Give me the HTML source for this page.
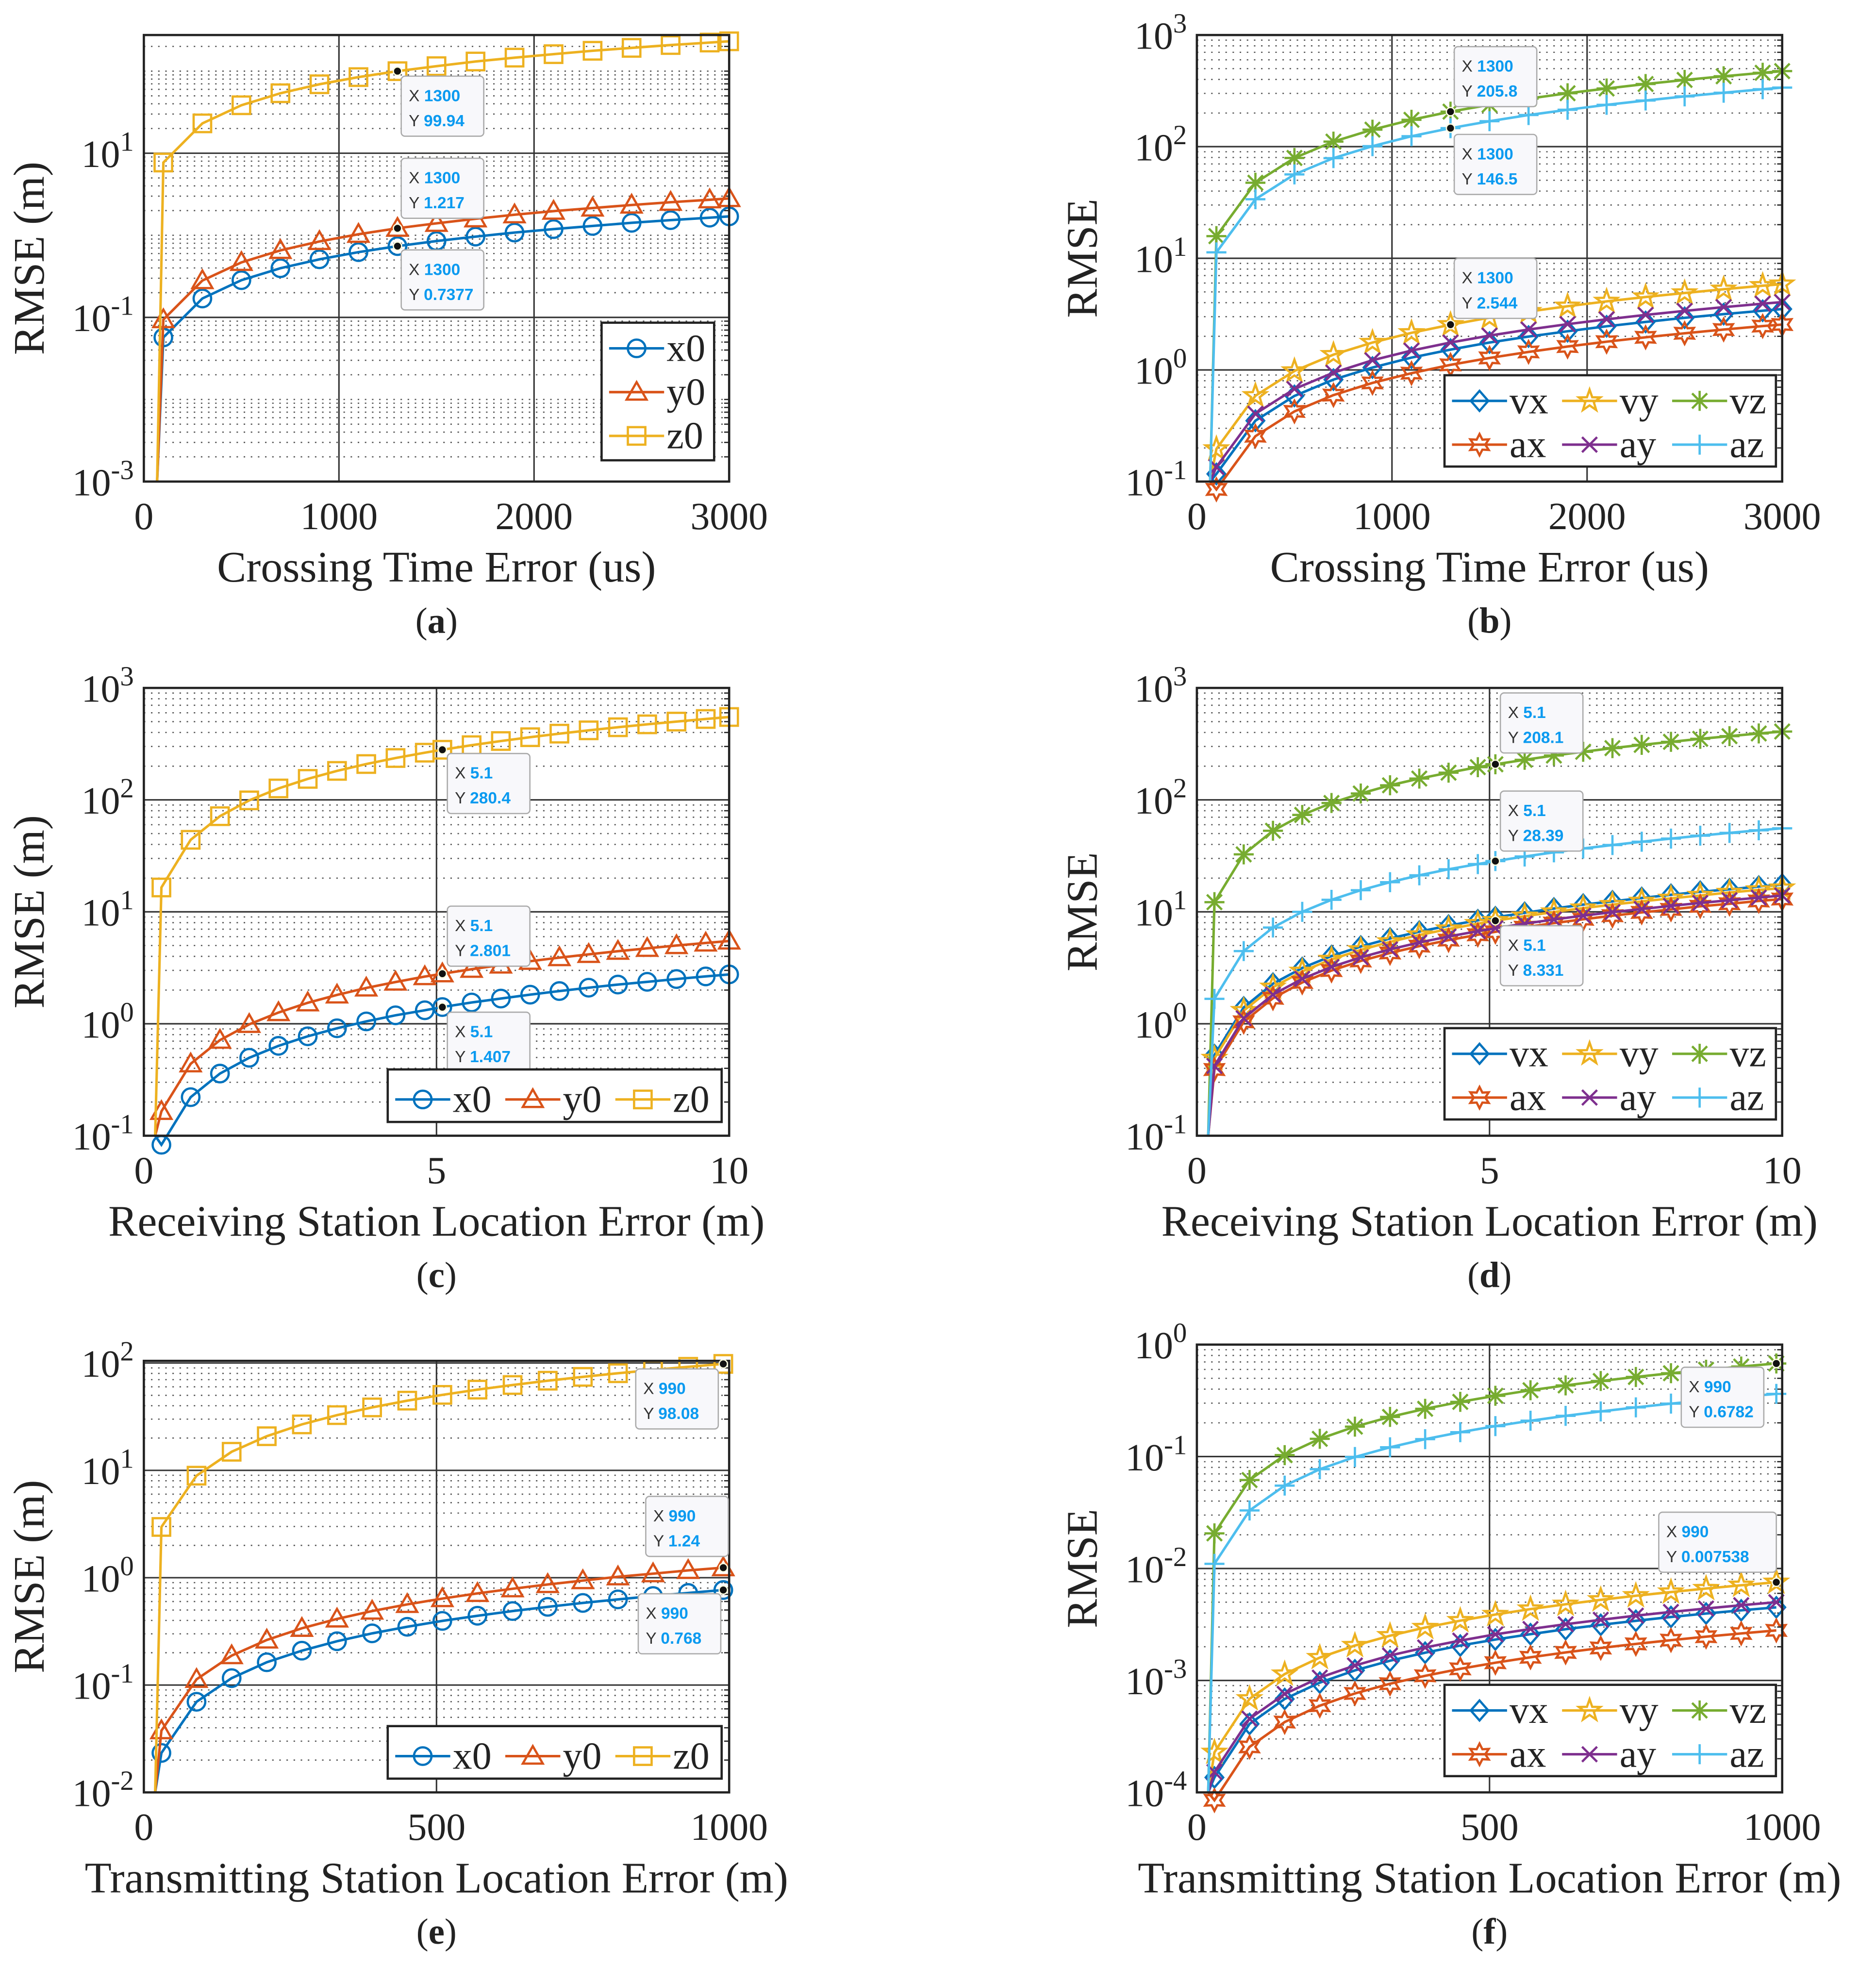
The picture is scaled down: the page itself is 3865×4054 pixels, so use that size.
<!DOCTYPE html>
<html><head><meta charset="utf-8"><style>
html,body{margin:0;padding:0;background:#fff;}
svg{display:block;}
text{font-family:"Liberation Serif",serif;fill:#222;}
.tip text{font-family:"Liberation Sans",sans-serif;}
</style></head><body>
<svg id="fig" width="3865" height="4054" viewBox="0 0 1500 1573.4" xmlns="http://www.w3.org/2000/svg"></svg>
<script>
// ---------- DATA ----------
const xA=[100,300,500,700,900,1100,1300,1500,1700,1900,2100,2300,2500,2700,2900,3000];
const aX0=[0.057,0.17,0.284,0.397,0.51,0.624,0.738,0.851,0.964,1.08,1.19,1.30,1.42,1.53,1.64,1.70];
const aY0=[0.094,0.281,0.468,0.655,0.842,1.03,1.22,1.40,1.59,1.78,1.97,2.15,2.34,2.53,2.71,2.81];
const aZ0=[7.7,23.1,38.4,53.8,69.2,84.6,99.9,115,131,146,161,177,192,208,223,231];
const bVX=[0.117,0.351,0.585,0.819,1.05,1.29,1.52,1.76,1.99,2.22,2.46,2.69,2.93,3.16,3.39,3.51];
const bVY=[0.196,0.587,0.979,1.37,1.76,2.15,2.54,2.94,3.33,3.72,4.11,4.50,4.89,5.28,5.68,5.87];
const bVZ=[15.8,47.5,79.2,111,142,174,206,237,269,301,332,364,396,427,459,475];
const bAX=[0.085,0.255,0.425,0.595,0.765,0.935,1.11,1.28,1.45,1.62,1.79,1.96,2.13,2.30,2.47,2.55];
const bAY=[0.135,0.405,0.675,0.945,1.22,1.49,1.76,2.03,2.30,2.57,2.84,3.11,3.38,3.65,3.92,4.05];
const bAZ=[11.3,33.8,56.4,78.9,101,124,146.5,169,192,214,237,259,282,304,327,338];
const xC=[0.3,0.8,1.3,1.8,2.3,2.8,3.3,3.8,4.3,4.8,5.1,5.6,6.1,6.6,7.1,7.6,8.1,8.6,9.1,9.6,10];
const cX0=[0.083,0.221,0.359,0.497,0.635,0.773,0.911,1.05,1.19,1.32,1.41,1.55,1.68,1.82,1.96,2.10,2.24,2.37,2.51,2.65,2.76];
const cY0=[0.165,0.439,0.714,0.988,1.26,1.54,1.81,2.09,2.36,2.64,2.80,3.07,3.35,3.62,3.90,4.17,4.45,4.72,5.00,5.27,5.49];
const cZ0=[16.5,44,71.5,99,126.5,154,181.5,209,236.5,264,280.4,308,335.5,363,390.5,418,445.5,473,500.5,528,550];
const dVX=[0.525,1.40,2.28,3.15,4.03,4.90,5.78,6.65,7.53,8.40,8.93,9.80,10.7,11.6,12.4,13.3,14.2,15.1,15.9,16.8,17.5];
const dVY=[0.49,1.31,2.12,2.94,3.76,4.57,5.39,6.21,7.02,7.84,8.33,9.14,9.96,10.8,11.6,12.4,13.2,14.0,14.9,15.7,16.3];
const dVZ=[12.2,32.6,53.0,73.4,93.8,114,135,155,175,196,208,228,249,269,290,310,330,351,371,392,408];
const dAX=[0.39,1.04,1.69,2.34,2.99,3.64,4.29,4.94,5.59,6.24,6.63,7.28,7.93,8.58,9.23,9.88,10.5,11.2,11.8,12.5,13.0];
const dAY=[0.42,1.12,1.82,2.52,3.22,3.92,4.62,5.32,6.02,6.72,7.14,7.84,8.54,9.24,9.94,10.6,11.3,12.0,12.7,13.4,14.0];
const dAZ=[1.67,4.46,7.24,10.0,12.8,15.6,18.4,21.2,24.0,26.7,28.4,31.2,34.0,36.8,39.5,42.3,45.1,47.9,50.7,53.5,55.7];
const xE=[30,90,150,210,270,330,390,450,510,570,630,690,750,810,870,930,990];
const eX0=[0.0233,0.0698,0.116,0.163,0.209,0.256,0.303,0.349,0.396,0.442,0.489,0.535,0.582,0.628,0.675,0.721,0.768];
const eY0=[0.0376,0.113,0.188,0.263,0.338,0.413,0.489,0.564,0.639,0.714,0.789,0.865,0.940,1.02,1.09,1.17,1.24];
const eZ0=[2.97,8.92,14.9,20.8,26.8,32.7,38.6,44.6,50.5,56.5,62.4,68.4,74.3,80.3,86.2,92.2,98.1];
const fVX=[0.136e-3,0.409e-3,0.683e-3,0.956e-3,1.23e-3,1.50e-3,1.77e-3,2.05e-3,2.32e-3,2.59e-3,2.87e-3,3.14e-3,3.41e-3,3.69e-3,3.96e-3,4.23e-3,4.50e-3];
const fVY=[0.228e-3,0.685e-3,1.14e-3,1.60e-3,2.05e-3,2.51e-3,2.97e-3,3.42e-3,3.88e-3,4.34e-3,4.79e-3,5.25e-3,5.71e-3,6.16e-3,6.62e-3,7.08e-3,7.54e-3];
const fVZ=[0.0206,0.0617,0.103,0.144,0.185,0.226,0.267,0.308,0.349,0.391,0.432,0.473,0.514,0.555,0.596,0.637,0.678];
const fAX=[0.085e-3,0.255e-3,0.425e-3,0.595e-3,0.765e-3,0.935e-3,1.10e-3,1.27e-3,1.44e-3,1.61e-3,1.78e-3,1.95e-3,2.12e-3,2.29e-3,2.46e-3,2.63e-3,2.80e-3];
const fAY=[0.152e-3,0.455e-3,0.758e-3,1.06e-3,1.36e-3,1.67e-3,1.97e-3,2.27e-3,2.58e-3,2.88e-3,3.18e-3,3.48e-3,3.79e-3,4.09e-3,4.39e-3,4.70e-3,5.00e-3];
const fAZ=[0.011,0.033,0.055,0.0771,0.0991,0.121,0.143,0.165,0.187,0.209,0.231,0.253,0.275,0.297,0.319,0.341,0.363];
const xTicksA=[0,1000,2000,3000], xTicksC=[0,5,10], xTicksE=[0,500,1000];
const tipsA=[[1300,99.94],[1300,1.217],[1300,0.7377]];
const tipsB=[[1300,205.8],[1300,146.5],[1300,2.544]];
const tipsC=[[5.1,280.4],[5.1,2.801],[5.1,1.407]];
const tipsD=[[5.1,208.1],[5.1,28.39],[5.1,8.331]];
const tipsE=[[990,98.08],[990,1.24],[990,0.768]];
const tipsF=[[990,0.6782],[990,0.007538]];

// ---------- DRAWING ----------
const NS='http://www.w3.org/2000/svg';
const svg=document.getElementById('fig');
function mk(tag,attrs,parent){const e=document.createElementNS(NS,tag);for(const k in attrs)e.setAttribute(k,attrs[k]);(parent||svg).appendChild(e);return e;}
const C={blue:'#0072BD',orange:'#D95319',yellow:'#EDB120',purple:'#7E2F8E',green:'#77AC30',cyan:'#4DBEEE'};

function star(x,y,n,ro,ri){let p=[];for(let i=0;i<2*n;i++){const r=i%2?ri:ro;const a=-Math.PI/2+i*Math.PI/n;p.push((x+r*Math.cos(a)).toFixed(2)+','+(y+r*Math.sin(a)).toFixed(2));}return p.join(' ');}
function marker(g,type,x,y,col){
  const st={fill:'none',stroke:col,'stroke-width':1.8};
  let e;
  if(type==='o'){e=mk('circle',Object.assign({cx:x,cy:y,r:7},st),g);}
  else if(type==='^'){e=mk('polygon',Object.assign({points:`${x},${y-8} ${x+8},${y+6} ${x-8},${y+6}`},st),g);}
  else if(type==='s'){e=mk('rect',Object.assign({x:x-7,y:y-7,width:14,height:14},st),g);}
  else if(type==='d'){e=mk('polygon',Object.assign({points:`${x},${y-8} ${x+7},${y} ${x},${y+8} ${x-7},${y}`},st),g);}
  else if(type==='p'){e=mk('polygon',Object.assign({points:star(x,y,5,9,3.6)},st),g);}
  else if(type==='h'){e=mk('polygon',Object.assign({points:star(x,y,6,8.5,4.6)},st),g);}
  else {
    const segs=[];
    if(type==='x'||type==='*')segs.push([-6,-6,6,6],[-6,6,6,-6]);
    if(type==='+'||type==='*')segs.push([0,-8,0,8],[-8,0,8,0]);
    e=mk('path',Object.assign({d:segs.map(s=>`M${x+s[0]},${y+s[1]}L${x+s[2]},${y+s[3]}`).join('')},st),g);
  }
  
  
}
function pow10(g,x,y,exp,anchor){
  const t=mk('text',{x:x,y:y,'font-size':31,'text-anchor':anchor||'end'},g);
  
  
  const a=mk('tspan',{},t);a.textContent='10';
  const b=mk('tspan',{dy:-13,'font-size':22},t);b.textContent=String(exp);
}

function panel(p){
  const g=mk('g',{});
  
  
  const {L,R,T,B}=p;
  const sx=v=>L+(v-p.x0)/(p.x1-p.x0)*(R-L);
  const sy=v=>B-(Math.log10(v)-p.e0)/(p.e1-p.e0)*(B-T);
  // minor grid
  for(let e=Math.floor(p.e0);e<Math.ceil(p.e1);e++){
    for(let m=1;m<=9;m++){
      const v=m*Math.pow(10,e);const y=sy(v);
      if(y<T+0.5||y>B-0.5)continue;
      if(m===1&&p.yt.indexOf(e)>=0)continue;
      const ln=mk('line',{x1:L,x2:R,y1:y,y2:y,stroke:'#555','stroke-width':1,'stroke-dasharray':'1.2 4.5'},g);
      
      
      const tk=mk('line',{x1:R-4,x2:R,y1:y,y2:y,stroke:'#222','stroke-width':1},g);
      
      
    }
  }
  // major grid
  p.yt.forEach(e=>{
    const y=sy(Math.pow(10,e));
    const ln=mk('line',{x1:L,x2:R,y1:y,y2:y,stroke:'#333','stroke-width':1.2},g);
    
    
  });
  p.xt.forEach(v=>{
    const x=sx(v);
    const ln=mk('line',{x1:x,x2:x,y1:T,y2:B,stroke:'#333','stroke-width':1.2},g);
    
    
    const t=mk('text',{x:x,y:B+38,'font-size':31,'text-anchor':'middle'},g);
    t.textContent=String(v);
    
    
  });
  p.yt.forEach(e=>pow10(g,L-8,sy(Math.pow(10,e))+11,e));
  // series
  p.series.forEach(s=>{
    const sg=mk('g',{},g);
    
    
    const pts=s.y.map((v,i)=>[sx(p.xs[i]),sy(v)]);
    let d=`M${pts[0][0]-5},${B}L`+pts.map(q=>q[0].toFixed(2)+','+q[1].toFixed(2)).join('L');
    const pl=mk('path',{d:d,fill:'none',stroke:s.c,'stroke-width':2},sg);
    
    
    pts.forEach(q=>marker(sg,s.m,q[0],q[1],s.c));
  });
  // axes box
  const bx=mk('rect',{x:L,y:T,width:R-L,height:B-T,fill:'none',stroke:'#222','stroke-width':1.8},g);
  
  
  // tips
  p.tips.forEach((tp,i)=>{
    const px=sx(tp[0]),py=sy(tp[1]);const off=p.tipOff[i];
    const tg=mk('g',{'class':'tip'},g);
    
    
    const w=off[2]||66;
    const bxx=px+off[0],byy=py+off[1];
    const r=mk('rect',{x:bxx,y:byy,width:w,height:48,rx:3,fill:'#f8f8fb',stroke:'#aaa','stroke-width':1},tg);
    
    
    const t1=mk('text',{x:bxx+6,y:byy+20,'font-size':13},tg);
    
    
    const a1=mk('tspan',{fill:'#333'},t1);a1.textContent='X ';
    const b1=mk('tspan',{fill:'#0a9af0','font-weight':'bold'},t1);b1.textContent=String(tp[0]);
    const t2=mk('text',{x:bxx+6,y:byy+40,'font-size':13},tg);
    
    
    const a2=mk('tspan',{fill:'#333'},t2);a2.textContent='Y ';
    const b2=mk('tspan',{fill:'#0a9af0','font-weight':'bold'},t2);b2.textContent=String(tp[1]);
    const dt=mk('circle',{cx:px,cy:py,r:3.3,fill:'#111',stroke:'#ffffe0','stroke-width':1},tg);
    
    
  });
  // legend
  const lg=mk('g',{},g);
  
  
  const Lg=p.leg;
  const lr=mk('rect',{x:Lg.x,y:Lg.y,width:Lg.w,height:Lg.h,fill:'#fff',stroke:'#222','stroke-width':1.8},lg);
  
  
  p.series.forEach((s,i)=>{
    const col=i%Lg.cols,row=Math.floor(i/Lg.cols);
    const ex=Lg.x+6+col*Lg.cw,ey=Lg.y+Lg.rh/2+3+row*Lg.rh;
    const eg=mk('g',{},lg);
    
    
    const ln=mk('line',{x1:ex,x2:ex+44,y1:ey,y2:ey,stroke:s.c,'stroke-width':2},eg);
    
    
    marker(eg,s.m,ex+22,ey,s.c);
    const t=mk('text',{x:ex+46,y:ey+10,'font-size':31},eg);
    t.textContent=s.name;
    
    
  });
  // labels
  const yl=mk('text',{x:0,y:0,'font-size':35,'text-anchor':'middle',transform:`translate(${L-80},${(T+B)/2}) rotate(-90)`},g);
  yl.textContent=p.ylab;
  
  
  const xl=mk('text',{x:(L+R)/2,y:B+80,'font-size':35,'text-anchor':'middle'},g);
  xl.textContent=p.xlab;
  
  
  const pl=mk('text',{x:(L+R)/2,y:B+121,'font-size':29,'text-anchor':'middle'},g);
  
  
  const q1=mk('tspan',{},pl);q1.textContent='(';
  const q2=mk('tspan',{'font-weight':'bold'},pl);q2.textContent=p.id;
  const q3=mk('tspan',{},pl);q3.textContent=')';
}

const legV={x:481,y:258,w:90,h:110,cols:1,cw:0,rh:35};
const six=(x,y)=>({x:x,y:y,w:265,h:73,cols:3,cw:88,rh:35});
const one=(x,y)=>({x:x,y:y,w:267,h:42,cols:3,cw:88,rh:42});
const s3=(a,b,c)=>[{name:'x0',y:a,c:C.blue,m:'o'},{name:'y0',y:b,c:C.orange,m:'^'},{name:'z0',y:c,c:C.yellow,m:'s'}];
const s6=(vx,vy,vz,ax,ay,az)=>[{name:'vx',y:vx,c:C.blue,m:'d'},{name:'vy',y:vy,c:C.yellow,m:'p'},{name:'vz',y:vz,c:C.green,m:'*'},{name:'ax',y:ax,c:C.orange,m:'h'},{name:'ay',y:ay,c:C.purple,m:'x'},{name:'az',y:az,c:C.cyan,m:'+'}];

panel({id:'a',L:115,R:583,T:28,B:385,x0:0,x1:3000,e0:-3,e1:2.44,xs:xA,xt:xTicksA,yt:[-3,-1,1],
  series:s3(aX0,aY0,aZ0),tips:tipsA,tipOff:[[3,4],[3,-56],[3,3]],leg:legV,
  ylab:'RMSE (m)',xlab:'Crossing Time Error (us)'});
panel({id:'b',L:957,R:1425,T:28,B:385,x0:0,x1:3000,e0:-1,e1:3,xs:xA,xt:xTicksA,yt:[-1,0,1,2,3],
  series:s6(bVX,bVY,bVZ,bAX,bAY,bAZ),tips:tipsB,tipOff:[[3,-52],[3,5],[3,-53]],leg:six(1155,300),
  ylab:'RMSE',xlab:'Crossing Time Error (us)'});
panel({id:'c',L:115,R:583,T:550,B:908,x0:0,x1:10,e0:-1,e1:3,xs:xC,xt:xTicksC,yt:[-1,0,1,2,3],
  series:s3(cX0,cY0,cZ0),tips:tipsC,tipOff:[[4,3],[4,-54],[4,4]],leg:one(310,855),
  ylab:'RMSE (m)',xlab:'Receiving Station Location Error (m)'});
panel({id:'d',L:957,R:1425,T:550,B:908,x0:0,x1:10,e0:-1,e1:3,xs:xC,xt:xTicksC,yt:[-1,0,1,2,3],
  series:s6(dVX,dVY,dVZ,dAX,dAY,dAZ),tips:tipsD,tipOff:[[4,-57],[4,-56],[4,4]],leg:six(1155,822),
  ylab:'RMSE',xlab:'Receiving Station Location Error (m)'});
panel({id:'e',L:115,R:583,T:1088,B:1433,x0:0,x1:1000,e0:-2,e1:2.02,xs:xE,xt:xTicksE,yt:[-2,-1,0,1,2],
  series:s3(eX0,eY0,eZ0),tips:tipsE,tipOff:[[-70,4],[-62,-57],[-68,3]],leg:one(310,1380),
  ylab:'RMSE (m)',xlab:'Transmitting Station Location Error (m)'});
panel({id:'f',L:957,R:1425,T:1075,B:1433,x0:0,x1:1000,e0:-4,e1:0,xs:xE,xt:xTicksE,yt:[-4,-3,-2,-1,0],
  series:s6(fVX,fVY,fVZ,fAX,fAY,fAZ),tips:tipsF,tipOff:[[-76,3],[-94,-56,94]],leg:six(1155,1347),
  ylab:'RMSE',xlab:'Transmitting Station Location Error (m)'});
</script>
</body></html>
